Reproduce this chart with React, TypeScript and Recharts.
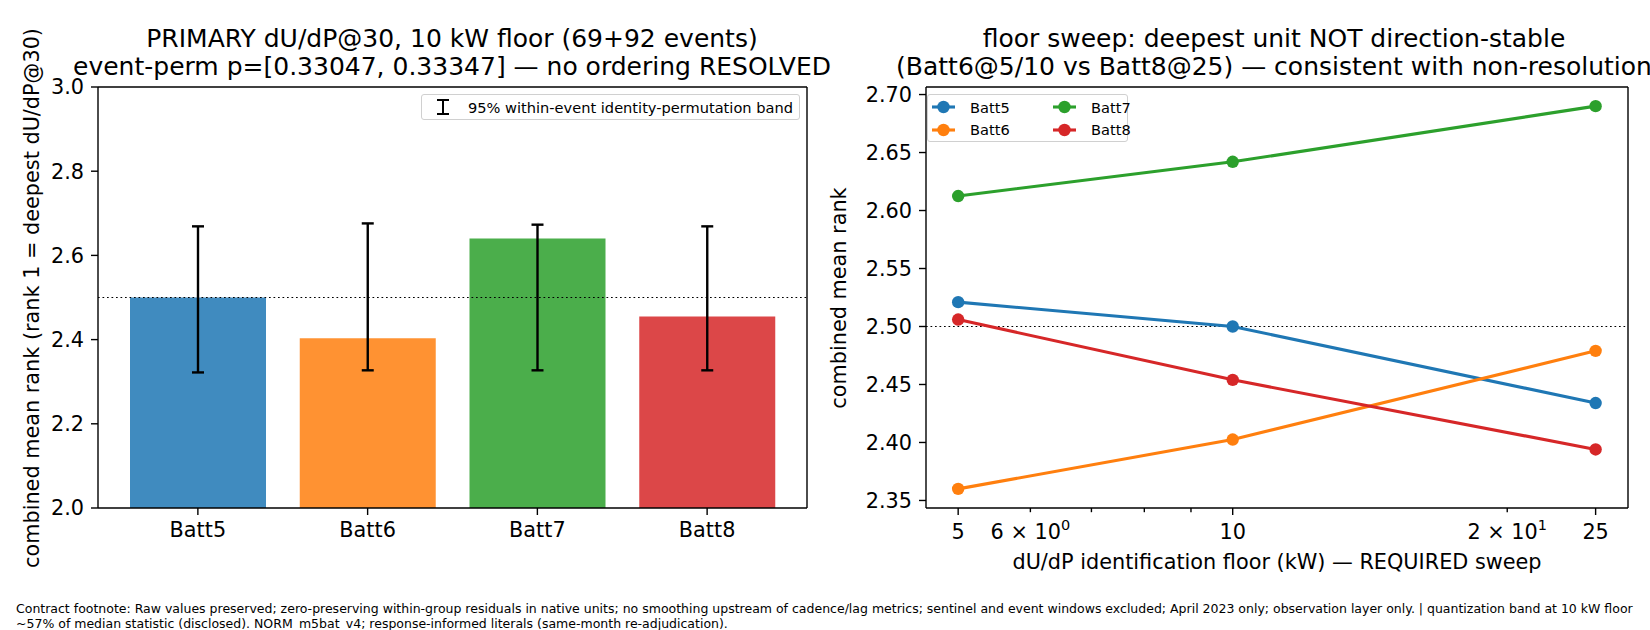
import {
  BarChart,
  Bar,
  Cell,
  ErrorBar,
  XAxis,
  YAxis,
  ReferenceLine,
  LineChart,
  Line,
} from "recharts";

// left panel: primary dU/dP@30 at 10 kW floor
const UNITS = ["Batt5", "Batt6", "Batt7", "Batt8"];
const MEAN_RANK = [2.5, 2.403, 2.64, 2.455];
const BAND_LOW = [2.322, 2.327, 2.327, 2.327];
const BAND_HIGH = [2.669, 2.676, 2.673, 2.669];

// right panel: floor sweep
const FLOORS = [5, 10, 25];
const SWEEP_BATT5 = [2.521, 2.5, 2.434];
const SWEEP_BATT6 = [2.36, 2.4025, 2.479];
const SWEEP_BATT7 = [2.6125, 2.642, 2.69];
const SWEEP_BATT8 = [2.506, 2.454, 2.394];

const LEFT_TICKS = [2.0, 2.2, 2.4, 2.6, 2.8, 3.0];
const RIGHT_TICKS = [2.35, 2.4, 2.45, 2.5, 2.55, 2.6, 2.65, 2.7];
const LOG_TICKS = [5, 6, 7, 8, 9, 10, 20, 25];

const COLORS = ["#1f77b4", "#ff7f0e", "#2ca02c", "#d62728"];
const FONT = "DejaVu Sans";
const TICK_FONT = 20.8;

const barData = UNITS.map((unit, i) => ({
  unit,
  rank: MEAN_RANK[i],
  err: [MEAN_RANK[i] - BAND_LOW[i], BAND_HIGH[i] - MEAN_RANK[i]],
}));

const sweepData = FLOORS.map((floor, i) => ({
  floor,
  Batt5: SWEEP_BATT5[i],
  Batt6: SWEEP_BATT6[i],
  Batt7: SWEEP_BATT7[i],
  Batt8: SWEEP_BATT8[i],
}));

const tickStyle = { fontSize: TICK_FONT, fontFamily: FONT, fill: "#000" };
const axisLine = { stroke: "#000", strokeWidth: 1.4 };
const tickLine = { stroke: "#000", strokeWidth: 1.4 };

const LogTick = (props: any) => {
  const { x, y, payload } = props;
  const v = payload.value;
  const major = v === 5 || v === 10 || v === 25;
  const axisY = y - 14;
  let label: any = null;
  if (major) label = String(v);
  else if (v === 6)
    label = (
      <>
        6 × 10<tspan dy={-9} fontSize={14.5}>0</tspan>
      </>
    );
  else if (v === 20)
    label = (
      <>
        2 × 10<tspan dy={-9} fontSize={14.5}>1</tspan>
      </>
    );
  return (
    <g>
      <line x1={x} x2={x} y1={axisY} y2={axisY + (major ? 7 : 4.2)} stroke="#000" strokeWidth={1.4} />
      {label && (
        <text x={x} y={y} dy="0.8em" textAnchor="middle" {...tickStyle}>
          {label}
        </text>
      )}
    </g>
  );
};

const legendBox = {
  position: "absolute" as const,
  border: "1px solid #d0d0d0",
  borderRadius: 3,
  background: "rgba(255,255,255,0.8)",
  fontFamily: FONT,
  fontSize: 14.6,
  boxSizing: "border-box" as const,
  whiteSpace: "nowrap" as const,
};

const BandLegend = () => (
  <div style={{ ...legendBox, left: 421, top: 94, width: 379, height: 26, display: "flex", alignItems: "center" }}>
    <svg width={46} height={22} style={{ flex: "none" }}>
      <line x1={21} x2={21} y1={4} y2={18} stroke="#000" strokeWidth={2} />
      <line x1={15} x2={27} y1={4} y2={4} stroke="#000" strokeWidth={2} />
      <line x1={15} x2={27} y1={18} y2={18} stroke="#000" strokeWidth={2} />
    </svg>
    <span>95% within-event identity-permutation band</span>
  </div>
);

const SweepLegend = () => {
  const cols = [
    ["Batt5", "Batt6"],
    ["Batt7", "Batt8"],
  ];
  return (
    <div style={{ ...legendBox, left: 927, top: 94, width: 201, height: 48, display: "flex", padding: "1px 0 0 3px" }}>
      {cols.map((col, ci) => (
        <div key={ci} style={{ width: ci === 0 ? 122 : 75 }}>
          {col.map((name) => {
            const c = COLORS[UNITS.indexOf(name)];
            return (
              <div key={name} style={{ display: "flex", alignItems: "center", height: 22.5 }}>
                <svg width={39} height={20} style={{ flex: "none" }}>
                  <line x1={1} x2={24} y1={10} y2={10} stroke={c} strokeWidth={3.1} />
                  <circle cx={12.5} cy={10} r={6.2} fill={c} />
                </svg>
                <span>{name}</span>
              </div>
            );
          })}
        </div>
      ))}
    </div>
  );
};

const abs = (extra: any) => ({
  position: "absolute" as const,
  fontFamily: FONT,
  color: "#000",
  whiteSpace: "nowrap" as const,
  ...extra,
});

export default function App() {
  return (
    <div
      style={{
        position: "fixed",
        left: 0,
        top: 0,
        width: 1650,
        height: 630,
        background: "#fff",
        overflow: "hidden",
      }}
    >
      {/* titles */}
      <div style={abs({ left: 452 - 500, width: 1000, top: 25, fontSize: 25, lineHeight: "28.4px", textAlign: "center" })}>
        PRIMARY dU/dP@30, 10 kW floor (69+92 events)
        <br />
        event-perm p=[0.33047, 0.33347] — no ordering RESOLVED
      </div>
      <div style={abs({ left: 1274 - 500, width: 1000, top: 25, fontSize: 25, lineHeight: "28.4px", textAlign: "center" })}>
        floor sweep: deepest unit NOT direction-stable
        <br />
        (Batt6@5/10 vs Batt8@25) — consistent with non-resolution
      </div>

      {/* axis labels */}
      <div style={abs({ left: 31.6, top: 297.5, fontSize: 20.8, transform: "translate(-50%, -50%) rotate(-90deg)" })}>
        combined mean rank (rank 1 = deepest dU/dP@30)
      </div>
      <div style={abs({ left: 838.6, top: 297.5, fontSize: 20.8, transform: "translate(-50%, -50%) rotate(-90deg)" })}>
        combined mean rank
      </div>
      <div style={abs({ left: 1277, top: 562, fontSize: 20.8, transform: "translate(-50%, -50%)" })}>
        dU/dP identification floor (kW) — REQUIRED sweep
      </div>

      {/* left panel */}
      <div style={{ position: "absolute", left: 0, top: 0 }}>
        <BarChart width={820} height={630} data={barData} margin={{ top: 86, right: 12, bottom: 92, left: 38 }}>
          <XAxis
            dataKey="unit"
            height={30}
            padding={{ left: 15, right: 15 }}
            tick={tickStyle}
            axisLine={axisLine}
            tickLine={tickLine}
            tickSize={7}
            tickMargin={7}
          />
          <XAxis xAxisId="top" dataKey="unit" orientation="top" height={1} tick={false} tickLine={false} axisLine={axisLine} />
          <YAxis
            domain={[2, 3]}
            ticks={LEFT_TICKS}
            interval={0}
            allowDataOverflow
            width={60}
            tick={tickStyle}
            tickFormatter={(v: number) => v.toFixed(1)}
            axisLine={axisLine}
            tickLine={tickLine}
            tickSize={7}
            tickMargin={7}
          />
          <YAxis yAxisId="r" orientation="right" width={1} domain={[2, 3]} tick={false} tickLine={false} axisLine={axisLine} />
          <ReferenceLine y={2.5} stroke="#000" strokeWidth={1.2} strokeDasharray="1.7 2.8" />
          <Bar dataKey="rank" barSize={136} isAnimationActive={false}>
            {barData.map((d, i) => (
              <Cell key={d.unit} fill={COLORS[i]} fillOpacity={0.85} />
            ))}
            <ErrorBar dataKey="err" width={6} stroke="#000" strokeWidth={2.4} direction="y" />
          </Bar>
        </BarChart>
      </div>

      {/* right panel */}
      <div style={{ position: "absolute", left: 840, top: 0 }}>
        <LineChart width={810} height={630} data={sweepData} margin={{ top: 86, right: 21, bottom: 92, left: 16 }}>
          <XAxis
            dataKey="floor"
            type="number"
            scale="log"
            domain={[4.61, 27.13]}
            allowDataOverflow
            ticks={LOG_TICKS}
            interval={0}
            height={30}
            tick={<LogTick />}
            tickLine={false}
            tickSize={7}
            tickMargin={7}
            axisLine={axisLine}
          />
          <XAxis xAxisId="top" dataKey="floor" type="number" scale="log" domain={[4.61, 27.13]} allowDataOverflow orientation="top" height={1} tick={false} tickLine={false} axisLine={axisLine} />
          <YAxis
            domain={[2.3435, 2.7065]}
            ticks={RIGHT_TICKS}
            interval={0}
            allowDataOverflow
            width={70}
            tick={tickStyle}
            tickFormatter={(v: number) => v.toFixed(2)}
            axisLine={axisLine}
            tickLine={tickLine}
            tickSize={7}
            tickMargin={7}
          />
          <YAxis yAxisId="r" orientation="right" width={1} domain={[2.3435, 2.7065]} tick={false} tickLine={false} axisLine={axisLine} />
          <ReferenceLine y={2.5} stroke="#000" strokeWidth={1.2} strokeDasharray="1.7 2.8" />
          {UNITS.map((u, i) => (
            <Line
              key={u}
              dataKey={u}
              stroke={COLORS[i]}
              strokeWidth={3.1}
              dot={{ r: 6.2, fill: COLORS[i], stroke: "none" }}
              activeDot={false}
              isAnimationActive={false}
            />
          ))}
        </LineChart>
      </div>

      <BandLegend />
      <SweepLegend />

      {/* footnote */}
      <div style={abs({ left: 16, top: 601, fontSize: 12.5, lineHeight: "15px" })}>
        Contract footnote: Raw values preserved; zero-preserving within-group residuals in native units; no smoothing upstream of cadence/lag metrics; sentinel and event windows excluded; April 2023 only; observation layer only. | quantization band at 10 kW floor
        <br />
        ~57% of median statistic (disclosed). NORM_m5bat_v4; response-informed literals (same-month re-adjudication).
      </div>
    </div>
  );
}
